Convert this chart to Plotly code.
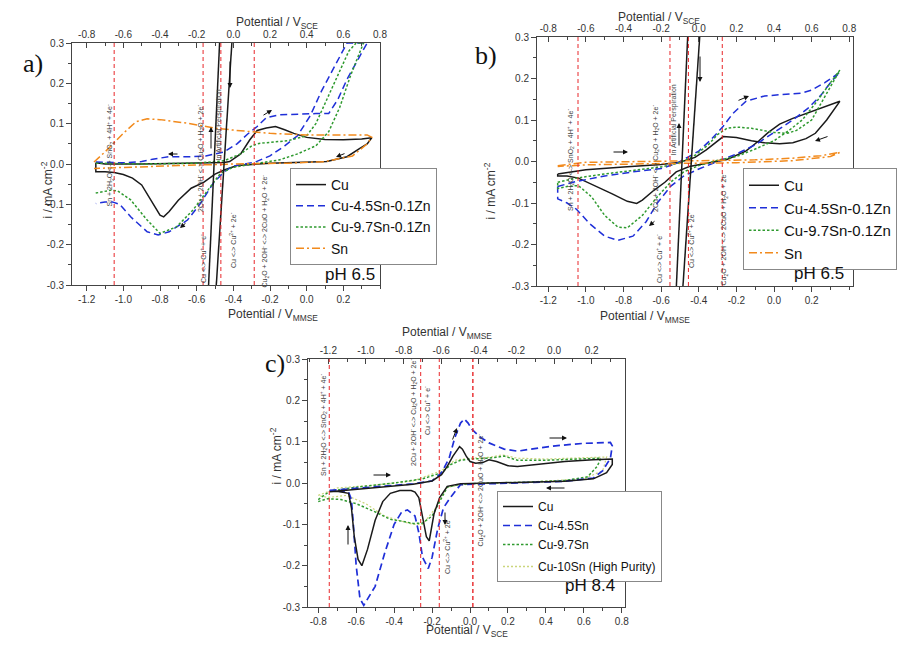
import plotly.graph_objects as go

W, H = 918, 651
def px(x):
    return x / W
def py(y):
    return 1 - y / H

# ---------------- tick labels ----------------
MMSE_TICKS = [-1.2, -1.0, -0.8, -0.6, -0.4, -0.2, 0.0, 0.2]
MMSE_TEXT = ["-1.2", "-1.0", "-0.8", "-0.6", "-0.4", "-0.2", "0.0", "0.2"]
SCE_TICKS = [-0.8, -0.6, -0.4, -0.2, 0.0, 0.2, 0.4, 0.6, 0.8]
SCE_TEXT = ["-0.8", "-0.6", "-0.4", "-0.2", "0.0", "0.2", "0.4", "0.6", "0.8"]
I_TICKS = [-0.3, -0.2, -0.1, 0.0, 0.1, 0.2, 0.3]
I_TEXT = ["-0.3", "-0.2", "-0.1", "0.0", "0.1", "0.2", "0.3"]

# ---------------- panel a (x in V vs MMSE) ----------------
A_CU_X = [-1.15, -1.10, -0.90, -0.70, -0.55, -0.45, -0.42, -0.36, -0.31, -0.27, -0.22, -0.17, -0.12, -0.07, 0.00, 0.10, 0.20, 0.30, 0.355,
          0.33, 0.29, 0.22, 0.11, 0.00, -0.20, -0.38, -0.45, -0.50, -0.56, -0.63, -0.70, -0.75, -0.78, -0.80, -0.83, -0.86, -0.90, -0.95, -1.00, -1.05, -1.10, -1.15, -1.15]
A_CU_Y = [0.003, 0.000, 0.000, 0.001, 0.002, 0.004, 0.006, 0.025, 0.060, 0.083, 0.089, 0.093, 0.085, 0.076, 0.066, 0.061, 0.060, 0.062, 0.065,
          0.050, 0.039, 0.018, 0.006, 0.004, 0.002, -0.004, -0.015, -0.025, -0.045, -0.060, -0.090, -0.118, -0.131, -0.127, -0.105, -0.080, -0.052, -0.035, -0.026, -0.021, -0.019, -0.019, 0.003]
A_CU_IR1_X = [-0.535, -0.475]
A_CU_IR2_X = [-0.493, -0.408]
A_IR_Y = [-0.3, 0.3]

A_BL_X = [-1.15, -1.00, -0.90, -0.84, -0.75, -0.64, -0.55, -0.45, -0.38, -0.32, -0.27, -0.22, -0.15, -0.05, 0.05, 0.12, 0.17, 0.22, 0.28, 0.33,
          0.22, 0.15, 0.08, 0.02, -0.05, -0.12, -0.20, -0.28, -0.40, -0.45, -0.51, -0.58, -0.65, -0.75, -0.81, -0.87, -0.96, -1.02, -1.06, -1.10, -1.15]
A_BL_Y = [0.005, 0.003, 0.006, 0.012, 0.018, 0.018, 0.020, 0.030, 0.050, 0.075, 0.093, 0.115, 0.122, 0.124, 0.125, 0.125, 0.160, 0.210, 0.260, 0.300,
          0.300, 0.240, 0.180, 0.120, 0.070, 0.045, 0.020, 0.005, -0.005, -0.019, -0.048, -0.098, -0.139, -0.168, -0.176, -0.168, -0.131, -0.100, -0.094, -0.094, -0.098]

A_GR_X = [-1.15, -0.90, -0.60, -0.45, -0.36, -0.30, -0.26, -0.18, -0.10, 0.00, 0.05, 0.10, 0.17, 0.23, 0.27,
          0.31, 0.24, 0.18, 0.12, 0.05, -0.05, -0.15, -0.25, -0.40, -0.47, -0.54, -0.62, -0.71, -0.80, -0.87, -0.96, -1.03, -1.07, -1.16]
A_GR_Y = [0.002, 0.000, 0.002, 0.008, 0.025, 0.045, 0.051, 0.055, 0.058, 0.070, 0.100, 0.150, 0.220, 0.280, 0.300,
          0.300, 0.220, 0.140, 0.080, 0.045, 0.025, 0.010, 0.003, -0.008, -0.023, -0.065, -0.114, -0.156, -0.172, -0.139, -0.089, -0.067, -0.065, -0.073]

A_SN_X = [-1.16, -1.10, -1.00, -0.93, -0.87, -0.80, -0.65, -0.50, -0.40, -0.20, 0.00, 0.20, 0.33, 0.355,
          0.33, 0.25, 0.10, -0.10, -0.40, -0.70, -1.00, -1.16]
A_SN_Y = [0.005, 0.030, 0.076, 0.105, 0.112, 0.110, 0.101, 0.089, 0.084, 0.076, 0.072, 0.072, 0.072, 0.066,
          0.050, 0.020, 0.006, 0.002, 0.000, -0.004, -0.008, -0.011]

# ---------------- panel b (x in V vs MMSE) ----------------
B_CU_X = [-1.15, -1.00, -0.80, -0.60, -0.50, -0.42, -0.36, -0.30, -0.27, -0.20, -0.12, -0.05, 0.03, 0.10, 0.17, 0.22, 0.28, 0.35,
          0.28, 0.20, 0.10, 0.03, -0.03, -0.08, -0.15, -0.25, -0.35, -0.45, -0.52, -0.58, -0.64, -0.70, -0.73, -0.78, -0.86, -0.95, -1.04, -1.10, -1.15, -1.15]
B_CU_Y = [-0.030, -0.020, -0.013, -0.007, -0.002, 0.010, 0.028, 0.050, 0.060, 0.058, 0.050, 0.045, 0.043, 0.045, 0.055, 0.068, 0.100, 0.145,
          0.133, 0.120, 0.104, 0.090, 0.070, 0.050, 0.025, 0.005, -0.004, -0.012, -0.025, -0.050, -0.070, -0.093, -0.101, -0.096, -0.078, -0.058, -0.040, -0.035, -0.035, -0.030]
B_CU_IR1_X = [-0.519, -0.459]
B_CU_IR2_X = [-0.484, -0.395]
B_IR_Y = [-0.3, 0.3]

B_BL_X = [-1.15, -1.05, -0.90, -0.75, -0.60, -0.52, -0.46, -0.40, -0.33, -0.27, -0.22, -0.15, -0.05, 0.05, 0.15, 0.20, 0.27, 0.35,
          0.30, 0.25, 0.18, 0.10, 0.00, -0.10, -0.20, -0.30, -0.40, -0.48, -0.55, -0.62, -0.68, -0.75, -0.83, -0.90, -0.98, -1.05, -1.10, -1.15, -1.15]
B_BL_Y = [-0.060, -0.048, -0.035, -0.025, -0.017, -0.005, 0.010, 0.025, 0.055, 0.085, 0.115, 0.145, 0.158, 0.162, 0.165, 0.172, 0.190, 0.215,
          0.190, 0.160, 0.128, 0.100, 0.070, 0.040, 0.018, 0.000, -0.018, -0.035, -0.060, -0.100, -0.145, -0.180, -0.190, -0.180, -0.150, -0.115, -0.100, -0.090, -0.060]

B_GR_X = [-1.15, -1.05, -0.90, -0.75, -0.60, -0.50, -0.42, -0.35, -0.30, -0.25, -0.20, -0.12, -0.05, 0.00, 0.07, 0.12, 0.20, 0.25, 0.30, 0.35,
          0.30, 0.22, 0.15, 0.08, 0.00, -0.10, -0.20, -0.30, -0.40, -0.48, -0.55, -0.62, -0.70, -0.78, -0.83, -0.90, -0.97, -1.04, -1.10, -1.15, -1.15]
B_GR_Y = [-0.050, -0.040, -0.030, -0.022, -0.013, -0.003, 0.015, 0.040, 0.065, 0.080, 0.083, 0.080, 0.075, 0.070, 0.068, 0.075, 0.100, 0.140, 0.180, 0.220,
          0.190, 0.140, 0.100, 0.075, 0.050, 0.030, 0.012, 0.003, -0.010, -0.025, -0.050, -0.085, -0.130, -0.160, -0.158, -0.130, -0.085, -0.058, -0.060, -0.065, -0.050]

B_SN_X = [-1.15, -1.00, -0.70, -0.40, -0.10, 0.10, 0.25, 0.35,
          0.30, 0.10, -0.20, -0.60, -1.00, -1.15]
B_SN_Y = [-0.010, -0.002, 0.000, 0.002, 0.004, 0.008, 0.014, 0.022,
          0.012, 0.002, -0.003, -0.005, -0.008, -0.012]

# ---------------- panel c (x in V vs SCE) ----------------
C_CU_X = [-0.74, -0.60, -0.45, -0.30, -0.20, -0.15, -0.12, -0.09, -0.055, -0.04, -0.02, 0.00, 0.03, 0.07, 0.10, 0.14, 0.20, 0.25, 0.35, 0.50, 0.65, 0.75,
          0.75, 0.72, 0.65, 0.50, 0.30, 0.10, -0.05, -0.12, -0.16, -0.19, -0.205, -0.215, -0.23, -0.25, -0.27, -0.29, -0.31, -0.37, -0.42, -0.46, -0.50, -0.54, -0.57, -0.59, -0.61, -0.625, -0.64, -0.70, -0.74]
C_CU_Y = [-0.021, -0.015, -0.010, -0.003, 0.005, 0.020, 0.040, 0.065, 0.088, 0.082, 0.065, 0.052, 0.048, 0.050, 0.056, 0.052, 0.042, 0.040, 0.045, 0.052, 0.056, 0.058,
          0.045, 0.025, 0.010, 0.004, 0.002, 0.000, -0.002, -0.008, -0.035, -0.075, -0.110, -0.140, -0.130, -0.080, -0.035, -0.022, -0.018, -0.018, -0.025, -0.045, -0.090, -0.160, -0.200, -0.185, -0.130, -0.060, -0.025, -0.020, -0.021]

C_BL_X = [-0.74, -0.60, -0.45, -0.30, -0.20, -0.15, -0.11, -0.08, -0.05, -0.03, -0.01, 0.01, 0.05, 0.10, 0.18, 0.25, 0.32, 0.45, 0.60, 0.74, 0.75,
          0.74, 0.70, 0.65, 0.50, 0.30, 0.10, -0.05, -0.10, -0.14, -0.17, -0.20, -0.22, -0.25, -0.27, -0.29, -0.33, -0.36, -0.40, -0.45, -0.50, -0.56, -0.58, -0.60, -0.615, -0.625, -0.64, -0.74]
C_BL_Y = [-0.018, -0.013, -0.008, -0.002, 0.005, 0.025, 0.060, 0.110, 0.145, 0.155, 0.145, 0.130, 0.112, 0.097, 0.082, 0.077, 0.082, 0.090, 0.096, 0.098, 0.090,
          0.060, 0.030, 0.012, 0.004, 0.001, -0.001, -0.004, -0.033, -0.060, -0.110, -0.180, -0.207, -0.180, -0.120, -0.080, -0.065, -0.070, -0.100, -0.170, -0.250, -0.296, -0.280, -0.200, -0.100, -0.040, -0.022, -0.018]

C_GR_X = [-0.80, -0.74, -0.60, -0.40, -0.25, -0.15, -0.10, -0.05, 0.00, 0.10, 0.18, 0.25, 0.40, 0.55, 0.69,
          0.67, 0.62, 0.50, 0.30, 0.10, -0.05, -0.12, -0.16, -0.20, -0.25, -0.30, -0.35, -0.42, -0.50, -0.60, -0.68, -0.75, -0.80]
C_GR_Y = [-0.040, -0.020, -0.010, 0.000, 0.010, 0.025, 0.045, 0.055, 0.058, 0.060, 0.065, 0.055, 0.055, 0.058, 0.060,
          0.040, 0.015, 0.006, 0.002, 0.000, -0.003, -0.010, -0.045, -0.080, -0.097, -0.098, -0.093, -0.088, -0.070, -0.050, -0.040, -0.038, -0.045]

C_HP_X = [-0.80, -0.70, -0.50, -0.30, -0.15, -0.08, 0.00, 0.10, 0.17, 0.25, 0.40, 0.60, 0.72,
          0.70, 0.60, 0.30, 0.00, -0.12, -0.18, -0.25, -0.30, -0.38, -0.45, -0.55, -0.65, -0.75, -0.80]
C_HP_Y = [-0.030, -0.012, -0.005, 0.005, 0.030, 0.055, 0.060, 0.062, 0.068, 0.060, 0.058, 0.062, 0.063,
          0.030, 0.010, 0.002, -0.002, -0.010, -0.060, -0.100, -0.100, -0.090, -0.080, -0.050, -0.030, -0.035, -0.030]

# reference potentials (red dashed lines)
A_REF = [-1.05, -0.565, -0.468, -0.286]
B_REF = [-1.042, -0.553, -0.455, -0.275]
C_REF = [-0.742, -0.260, -0.162, 0.015]

BLACK = '#1a1a1a'
BLUE = '#1f2fd8'
GREEN = '#2f9a2f'
ORANGE = '#f28a1c'
LIME = '#cbd57c'
RED = '#e8262a'
AX = '#444444'

fig = go.Figure()

def add(xs, ys, name, color, dash, xa, ya, legend, show=True, width=1.5, group=None):
    fig.add_trace(go.Scatter(x=xs, y=ys, mode='lines', name=name,
                             line=dict(color=color, dash=dash, width=width),
                             xaxis=xa, yaxis=ya, legend=legend, showlegend=show,
                             legendgroup=group, hoverinfo='skip'))

DASH_B = '7px,4px'
DASH_G = '2.5px,2px'
DASH_O = '8px,3px,2px,3px'
DASH_L = '2px,2px'

# panel a
add(A_CU_X, A_CU_Y, 'Cu', BLACK, 'solid', 'x', 'y', 'legend')
add(A_BL_X, A_BL_Y, 'Cu-4.5Sn-0.1Zn', BLUE, DASH_B, 'x', 'y', 'legend')
add(A_GR_X, A_GR_Y, 'Cu-9.7Sn-0.1Zn', GREEN, DASH_G, 'x', 'y', 'legend')
add(A_SN_X, A_SN_Y, 'Sn', ORANGE, DASH_O, 'x', 'y', 'legend')
add(A_CU_IR1_X, A_IR_Y, 'Cu', BLACK, 'solid', 'x', 'y', 'legend', show=False)
add(A_CU_IR2_X, A_IR_Y, 'Cu', BLACK, 'solid', 'x', 'y', 'legend', show=False)
# panel b
add(B_CU_X, B_CU_Y, 'Cu', BLACK, 'solid', 'x3', 'y2', 'legend2')
add(B_BL_X, B_BL_Y, 'Cu-4.5Sn-0.1Zn', BLUE, DASH_B, 'x3', 'y2', 'legend2')
add(B_GR_X, B_GR_Y, 'Cu-9.7Sn-0.1Zn', GREEN, DASH_G, 'x3', 'y2', 'legend2')
add(B_SN_X, B_SN_Y, 'Sn', ORANGE, DASH_O, 'x3', 'y2', 'legend2')
add(B_CU_IR1_X, B_IR_Y, 'Cu', BLACK, 'solid', 'x3', 'y2', 'legend2', show=False)
add(B_CU_IR2_X, B_IR_Y, 'Cu', BLACK, 'solid', 'x3', 'y2', 'legend2', show=False)
# panel c
add(C_HP_X, C_HP_Y, 'Cu-10Sn (High Purity)', LIME, DASH_L, 'x5', 'y3', 'legend3', show=False, width=1.2)
add(C_GR_X, C_GR_Y, 'Cu-9.7Sn', GREEN, DASH_G, 'x5', 'y3', 'legend3', show=False)
add(C_BL_X, C_BL_Y, 'Cu-4.5Sn', BLUE, DASH_B, 'x5', 'y3', 'legend3', show=False, width=1.7)
add(C_CU_X, C_CU_Y, 'Cu', BLACK, 'solid', 'x5', 'y3', 'legend3', show=False)
# legend entries for panel c in order
for nm, col, ds, grp in [('Cu', BLACK, 'solid', 'main'), ('Cu-4.5Sn', BLUE, DASH_B, 'main'),
                         ('Cu-9.7Sn', GREEN, DASH_G, 'main'), ('Cu-10Sn (High Purity)', LIME, DASH_L, 'hp')]:
    add([None], [None], nm, col, ds, 'x5', 'y3', 'legend3', group=grp)

# invisible traces so that the top axes render
for xa, ya, tv in [('x2', 'y', SCE_TICKS), ('x4', 'y2', SCE_TICKS), ('x6', 'y3', MMSE_TICKS)]:
    fig.add_trace(go.Scatter(x=tv, y=[None] * len(tv), mode='lines', xaxis=xa, yaxis=ya,
                             showlegend=False, hoverinfo='skip'))

FONT = 'Liberation Sans, Arial, sans-serif'
TF = dict(family=FONT, size=10, color='#333')
TTF = dict(family=FONT, size=12, color='#333')

def xaxis(domain, rng, tv, tt, side, anchor, ticks, overlaying=None):
    d = dict(domain=domain, range=rng, tickmode='array', tickvals=tv, ticktext=tt,
             side=side, anchor=anchor, showline=True, linecolor=AX, linewidth=1,
             ticks=ticks, ticklen=5, tickcolor=AX, tickwidth=1, automargin=False,
             minor=dict(ticks=ticks, ticklen=3, tickcolor=AX, tickmode='linear', tick0=0, dtick=0.1),
             showgrid=False, zeroline=False, tickfont=TF)
    if overlaying:
        d['overlaying'] = overlaying
    return d

def yaxis(domain, anchor):
    return dict(domain=domain, range=[-0.3, 0.3], tickmode='array', tickvals=I_TICKS, ticktext=I_TEXT,
                anchor=anchor, showline=True, mirror=True, linecolor=AX, linewidth=1,
                ticks='outside', ticklen=5, tickcolor=AX, automargin=False,
                minor=dict(ticks='outside', ticklen=3, tickcolor=AX, tickmode='linear', tick0=0, dtick=0.05),
                showgrid=False, zeroline=False, tickfont=TF)

XA_D = [px(72), px(380)]
XB_D = [px(537), px(853)]
XC_D = [px(308), px(625)]
YA_D = [py(285), py(43)]
YB_D = [py(286), py(37)]
YC_D = [py(607), py(359)]

fig.update_layout(
    width=W, height=H, margin=dict(l=0, r=0, t=0, b=0, autoexpand=False),
    paper_bgcolor='white', plot_bgcolor='white',
    font=dict(family=FONT, color='#222'),
    xaxis=xaxis(XA_D, [-1.28, 0.40], MMSE_TICKS, MMSE_TEXT, 'bottom', 'y', 'outside'),
    xaxis2=xaxis(XA_D, [-0.88, 0.80], SCE_TICKS, SCE_TEXT, 'top', 'y', 'inside', 'x'),
    xaxis3=xaxis(XB_D, [-1.26, 0.42], MMSE_TICKS, MMSE_TEXT, 'bottom', 'y2', 'outside'),
    xaxis4=xaxis(XB_D, [-0.86, 0.82], SCE_TICKS, SCE_TEXT, 'top', 'y2', 'inside', 'x3'),
    xaxis5=xaxis(XC_D, [-0.854, 0.817], SCE_TICKS, SCE_TEXT, 'bottom', 'y3', 'outside'),
    xaxis6=xaxis(XC_D, [-1.308, 0.377], MMSE_TICKS, MMSE_TEXT, 'top', 'y3', 'inside', 'x5'),
    yaxis=yaxis(YA_D, 'x'),
    yaxis2=yaxis(YB_D, 'x3'),
    yaxis3=yaxis(YC_D, 'x5'),
    legend=dict(x=px(290), y=py(168), xanchor='left', yanchor='top', bgcolor='white',
                bordercolor='#888', borderwidth=1, font=dict(size=14, color='#111')),
    legend2=dict(x=px(743), y=py(168), xanchor='left', yanchor='top', bgcolor='white',
                 bordercolor='#888', borderwidth=1, font=dict(size=15, color='#111')),
    legend3=dict(x=px(497), y=py(491), xanchor='left', yanchor='top', bgcolor='white',
                 bordercolor='#888', borderwidth=1, font=dict(size=12, color='#111'),
                 tracegroupgap=3),
)

# red dashed reference lines
yrefs = {'x': 'y domain', 'x3': 'y2 domain', 'x5': 'y3 domain'}
for xr, refs in [('x', A_REF), ('x3', B_REF), ('x5', C_REF)]:
    for v in refs:
        fig.add_shape(type='line', xref=xr, yref=yrefs[xr], x0=v, x1=v,
                      y0=0, y1=1, line=dict(color=RED, width=1.4 if v == 0.015 else 1, dash='4px,3px'),
                      layer='above')

# axis titles
YT = 'i / mA cm<sup>-2</sup>'
SCE_T = 'Potential / V<sub>SCE</sub>'
MMSE_T = 'Potential / V<sub>MMSE</sub>'
for (x, y, t, ang) in [(234, 13, SCE_T, 0), (226, 315, MMSE_T, 0), (37, 160, YT, -90),
                       (702, 8, SCE_T, 0), (692, 317, MMSE_T, 0), (490, 160, YT, -90),
                       (447, 333, MMSE_T, 0), (467, 641, SCE_T, 0), (265, 487, YT, -90)]:
    fig.add_annotation(x=px(x), y=py(y), xref='paper', yref='paper', text=t, textangle=ang,
                       showarrow=False, font=TTF)

# reaction labels (rotated)
def rlabel(x, y, text):
    fig.add_annotation(x=px(x), y=py(y), xref='paper', yref='paper', text=text, textangle=-90,
                       showarrow=False, font=dict(size=7, color='#444'))

SN = 'Sn + 2H<sub>2</sub>O &lt;-&gt; SnO<sub>2</sub> + 4H<sup>+</sup> + 4e<sup>-</sup>'
CU2O = '2Cu + 2OH<sup>-</sup> &lt;-&gt; Cu<sub>2</sub>O + H<sub>2</sub>O + 2e<sup>-</sup>'
ART = 'In Artificial Perspiration'
CU1 = 'Cu &lt;-&gt; Cu<sup>+</sup> + e<sup>-</sup>'
CU2 = 'Cu &lt;-&gt; Cu<sup>2+</sup> + 2e<sup>-</sup>'
CUO = 'Cu<sub>2</sub>O + 2OH<sup>-</sup> &lt;-&gt; 2CuO + H<sub>2</sub>O + 2e<sup>-</sup>'

for (x, y, t) in [(103, 103, SN), (194, 103, CU2O), (212, 88, ART), (197, 259, CU1), (227, 240, CU2), (258, 231, CUO),
                  (570, 107, SN), (662, 103, CU2O), (680, 83, ART), (665, 259, CU1), (697, 240, CU2), (730, 229, CUO),
                  (323, 425, SN), (413, 413, CU2O), (427, 411, CU1), (447, 576, CU2), (481, 549, CUO)]:
    rlabel(x, y, t)

# scan-direction arrows (tip, tail) in pixels
ARROWS = [((168, 154), (179, 154)), ((272, 110), (262, 116)), ((180, 228), (187, 222)), ((336, 157), (346, 153)),
          ((211, 127), (211, 150)), ((230, 88), (230, 60)),
          ((628, 152), (612, 152)), ((749, 96), (737, 101)), ((649, 226), (656, 220)), ((815, 141), (829, 136)),
          ((679, 123), (679, 147)), ((700, 82), (700, 55)),
          ((391, 475), (372, 475)), ((457, 428), (452, 441)), ((567, 438), (548, 438)), ((546, 488), (566, 488)),
          ((348, 525), (348, 546)), ((445, 525), (445, 511))]
for (tip, tail) in ARROWS:
    fig.add_annotation(x=px(tip[0]), y=py(tip[1]), xref='paper', yref='paper', text='',
                       showarrow=True, ax=tail[0] - tip[0], ay=tail[1] - tip[1], axref='pixel', ayref='pixel',
                       arrowhead=2, arrowsize=1, arrowwidth=1, arrowcolor='#111')

# panel letters and pH labels
for (x, y, t) in [(21, 47, 'a)'), (486, 39, 'b)'), (263, 364, 'c)')]:
    fig.add_annotation(x=px(x), y=py(y), xref='paper', yref='paper', text=t, showarrow=False,
                       font=dict(family='Liberation Serif, Times New Roman, serif', size=26, color='#111'))
for (x, y, t) in [(377, 274, 'pH 6.5'), (846, 273, 'pH 6.5'), (617, 597, 'pH 8.4')]:
    fig.add_annotation(x=px(x), y=py(y), xref='paper', yref='paper', text=t, showarrow=False,
                       xanchor='right', font=dict(size=17, color='#111'))

fig.write_html('out.html', config={'displayModeBar': False},
               post_script="document.body.style.margin='0';document.body.style.padding='0';"
                           "document.documentElement.style.overflow='hidden';")
